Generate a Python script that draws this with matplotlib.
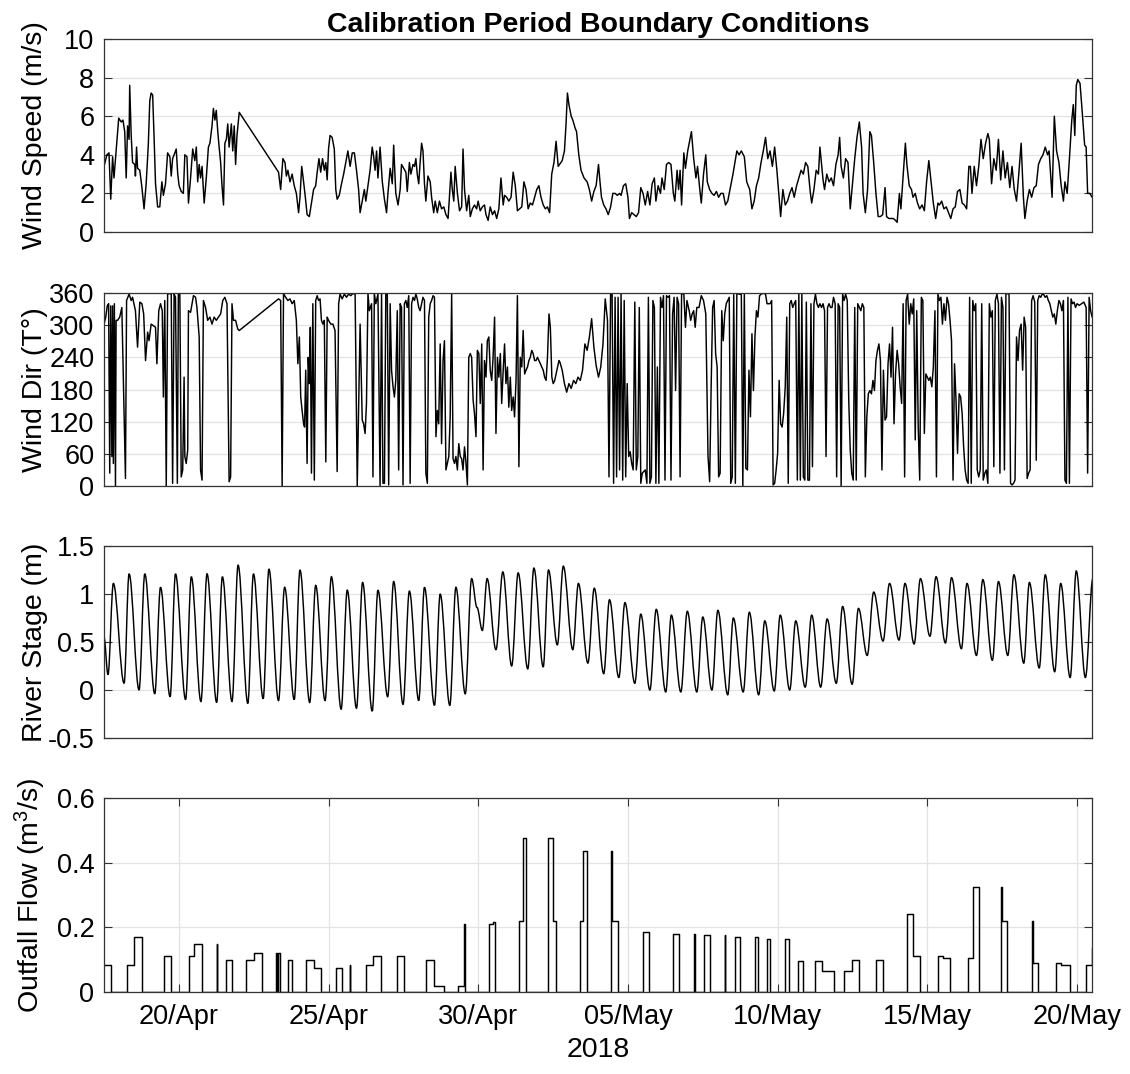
import numpy as np
import pandas as pd
import matplotlib
matplotlib.use("Agg")
import matplotlib.pyplot as plt
import matplotlib.dates as mdates
from matplotlib.path import Path
from matplotlib.patches import PathPatch
from matplotlib.ticker import FuncFormatter

plt.rcParams['font.family'] = ['Liberation Sans', 'DejaVu Sans']
plt.rcParams['mathtext.fontset'] = 'custom'
plt.rcParams['mathtext.rm'] = 'Liberation Sans'
plt.rcParams['mathtext.it'] = 'Liberation Sans:italic'

# time axis: hours after 17/Apr/2018 12:00
t_start = pd.Timestamp('2018-04-17 12:00')
t_end = pd.Timestamp('2018-05-20 12:00')
tick_days = ['2018-04-20', '2018-04-25', '2018-04-30', '2018-05-05',
             '2018-05-10', '2018-05-15', '2018-05-20']

# wind speed (m/s) : (hour, value)
wind_speed = [
    (0.0, 3.4), (2.3, 4.0), (4.0, 4.1), (5.4, 1.7), (6.9, 3.9), (8.0, 2.8), (9.7, 4.2), (11.8, 5.9),
    (13.8, 5.7), (15.2, 5.8), (16.6, 5.2), (17.8, 2.8), (18.9, 5.5), (20.1, 4.8), (20.6, 7.6), (21.8, 5.0),
    (22.9, 3.6), (24.7, 3.5), (25.2, 2.9), (26.1, 4.4), (26.9, 3.3), (28.7, 3.2), (30.4, 2.3), (32.1, 1.2),
    (33.8, 2.5), (35.5, 4.5), (36.7, 6.8), (37.8, 7.2), (39.0, 7.1), (40.1, 5.0), (41.3, 2.5), (43.0, 1.3),
    (44.7, 1.3), (46.4, 2.6), (47.6, 1.9), (49.3, 2.5), (51.0, 4.1), (52.8, 3.9), (53.9, 2.9), (55.0, 3.8),
    (56.8, 4.1), (57.9, 4.3), (59.1, 3.0), (60.2, 2.4), (61.9, 2.1), (63.6, 2.0), (64.8, 4.0), (66.5, 3.9),
    (67.7, 1.5), (69.4, 2.8), (71.1, 4.3), (72.8, 3.7), (74.0, 4.4), (75.1, 2.6), (76.3, 3.5), (77.4, 2.8),
    (78.6, 3.4), (80.3, 1.5), (82.0, 2.8), (83.7, 4.4), (84.9, 4.6), (86.6, 5.5), (87.7, 6.4), (88.9, 5.8),
    (90.0, 6.3), (91.2, 5.2), (92.3, 4.4), (93.5, 3.6), (94.6, 2.4), (95.8, 1.4), (96.9, 4.6), (98.1, 4.8),
    (99.2, 5.6), (100.3, 4.4), (102.1, 5.6), (103.2, 4.2), (104.4, 5.5), (105.5, 3.5), (106.6, 5.0), (108.4, 6.2),
    (139.9, 3.1), (141.6, 2.2), (143.4, 3.8), (145.1, 3.6), (146.2, 2.9), (147.4, 3.2), (149.1, 2.6), (150.8, 3.0),
    (152.5, 2.4), (154.2, 2.0), (156.0, 1.0), (157.1, 1.8), (158.5, 3.4), (160.0, 2.6), (161.4, 1.8), (162.8, 0.9),
    (164.6, 0.8), (166.3, 1.5), (168.0, 2.2), (169.7, 2.4), (170.9, 3.1), (172.3, 3.8), (173.7, 3.1), (175.2, 3.8),
    (176.6, 3.2), (177.8, 3.6), (178.9, 2.7), (180.0, 4.3), (181.2, 5.0), (182.9, 4.9), (184.6, 4.3), (185.8, 2.2),
    (186.9, 1.7), (188.6, 1.9), (190.4, 2.5), (192.1, 3.0), (193.8, 3.6), (195.5, 4.2), (197.3, 3.4), (199.0, 4.1),
    (200.7, 4.1), (202.4, 3.2), (204.1, 2.2), (205.3, 1.0), (207.0, 1.6), (208.7, 2.2), (209.9, 1.6), (211.6, 2.4),
    (213.3, 3.2), (215.0, 4.4), (216.2, 3.9), (217.3, 3.2), (218.5, 4.2), (219.6, 2.8), (221.3, 4.4), (223.1, 2.6),
    (224.8, 1.7), (226.5, 1.0), (227.6, 2.0), (229.4, 3.3), (231.1, 2.5), (232.2, 4.5), (233.9, 2.0), (235.7, 1.4),
    (237.4, 2.2), (238.5, 3.5), (240.2, 3.3), (242.0, 3.1), (243.1, 2.1), (244.8, 3.6), (246.0, 3.0), (247.7, 3.5),
    (248.9, 3.4), (250.0, 3.8), (251.1, 3.0), (252.3, 2.5), (253.4, 3.6), (254.6, 4.6), (255.7, 4.2), (256.9, 2.5),
    (258.0, 1.6), (259.7, 2.9), (261.5, 2.6), (262.6, 1.8), (264.3, 1.0), (265.5, 1.6), (267.2, 1.0), (268.9, 1.6),
    (270.6, 1.2), (272.4, 1.3), (274.1, 0.9), (275.8, 0.7), (276.9, 1.8), (278.1, 3.1), (279.2, 2.2), (280.4, 1.6),
    (281.5, 3.4), (283.3, 2.0), (285.0, 1.1), (286.7, 1.3), (287.8, 4.3), (289.0, 2.2), (290.7, 1.1), (292.4, 1.9),
    (293.6, 0.8), (295.3, 1.2), (297.0, 1.4), (298.7, 1.2), (299.9, 1.6), (301.6, 1.1), (303.3, 1.3), (305.0, 1.4),
    (306.2, 0.9), (307.9, 0.6), (309.6, 1.3), (311.4, 0.9), (313.1, 1.1), (314.8, 0.7), (316.5, 1.2), (318.2, 2.8),
    (320.0, 1.4), (321.1, 1.9), (322.8, 1.8), (324.5, 1.6), (326.3, 1.8), (328.0, 3.1), (329.7, 2.4), (331.4, 1.1),
    (333.1, 1.2), (334.9, 1.3), (336.6, 2.6), (338.3, 2.2), (340.0, 1.2), (341.7, 1.5), (343.5, 1.4), (345.2, 1.8),
    (346.9, 2.2), (348.6, 2.4), (350.3, 1.8), (352.1, 1.4), (353.8, 1.2), (355.5, 1.3), (357.2, 1.0), (358.9, 3.0),
    (360.7, 3.6), (362.4, 4.7), (364.1, 3.4), (367.3, 3.7), (369.1, 4.2), (370.3, 5.5), (371.5, 7.2), (372.7, 6.6),
    (374.5, 6.0), (375.8, 5.8), (377.6, 5.4), (378.8, 5.2), (380.6, 4.0), (382.4, 3.2), (384.8, 2.8), (387.3, 2.6),
    (389.1, 2.2), (390.9, 1.6), (392.7, 2.1), (394.5, 2.4), (396.4, 3.5), (397.6, 2.6), (398.8, 1.8), (400.6, 1.4),
    (402.4, 1.2), (404.2, 0.9), (406.1, 1.3), (407.9, 2.0), (409.7, 2.0), (411.5, 1.9), (413.3, 2.0), (414.5, 1.9),
    (416.4, 2.4), (418.2, 2.5), (420.0, 1.8), (421.2, 0.7), (423.0, 1.0), (424.8, 0.9), (426.7, 0.8), (428.5, 1.0),
    (430.3, 2.3), (432.1, 2.0), (433.9, 1.4), (435.8, 2.1), (437.6, 1.4), (439.4, 2.5), (441.2, 2.8), (442.4, 1.6),
    (444.2, 2.4), (446.1, 2.0), (447.3, 2.8), (449.1, 2.2), (450.9, 3.5), (452.7, 3.6), (454.5, 3.5), (456.4, 2.0),
    (457.6, 1.6), (459.4, 3.2), (460.6, 2.2), (461.8, 3.2), (463.0, 1.4), (464.8, 4.1), (466.1, 3.3), (467.9, 4.2),
    (469.1, 4.6), (470.9, 5.2), (472.7, 3.8), (474.5, 2.8), (475.8, 3.4), (477.6, 2.2), (478.8, 1.5), (480.6, 3.0),
    (482.4, 4.0), (483.6, 2.6), (485.5, 2.2), (487.3, 2.0), (489.1, 1.9), (490.9, 2.1), (492.7, 1.8), (494.5, 2.0),
    (496.4, 2.0), (498.2, 1.4), (500.0, 1.6), (502.4, 2.4), (504.2, 3.0), (505.5, 3.5), (507.3, 4.2), (509.1, 4.0),
    (510.9, 4.2), (513.3, 3.9), (515.2, 2.6), (517.6, 2.2), (519.4, 1.2), (521.2, 1.6), (523.0, 2.4), (524.8, 2.8),
    (526.7, 3.6), (528.5, 4.2), (530.3, 4.9), (532.1, 3.8), (533.9, 4.2), (535.8, 3.4), (537.6, 4.4), (539.4, 3.2),
    (541.2, 1.8), (542.4, 0.8), (544.2, 2.2), (546.1, 1.4), (547.9, 1.6), (549.7, 2.0), (551.5, 2.3), (553.3, 1.8),
    (555.2, 2.4), (557.0, 2.8), (558.8, 3.2), (560.6, 3.0), (562.4, 3.6), (564.2, 3.4), (566.1, 2.1), (567.3, 1.5),
    (569.1, 2.2), (570.9, 3.2), (572.7, 3.0), (573.9, 4.4), (575.2, 3.5), (576.4, 2.7), (577.6, 2.2), (579.4, 3.0),
    (581.2, 2.6), (583.0, 2.8), (584.8, 2.4), (586.7, 3.5), (588.5, 4.0), (589.7, 4.9), (590.9, 3.4), (592.7, 2.8),
    (594.5, 3.8), (596.4, 3.6), (598.2, 1.2), (600.0, 2.5), (601.8, 3.8), (603.6, 4.9), (605.5, 5.7), (607.3, 4.4),
    (608.5, 2.0), (610.3, 1.0), (612.1, 2.2), (613.9, 5.2), (615.2, 5.0), (617.0, 3.6), (618.8, 2.0), (620.6, 0.8),
    (622.4, 0.8), (624.2, 0.9), (626.1, 2.3), (627.3, 0.8), (629.1, 0.7), (630.9, 0.7), (632.7, 0.7), (634.5, 0.6),
    (635.8, 0.5), (637.6, 2.0), (638.8, 1.2), (640.6, 2.9), (642.4, 4.6), (643.6, 3.5), (645.5, 2.4), (647.3, 2.2),
    (648.5, 1.8), (650.3, 2.0), (652.1, 1.5), (653.9, 1.2), (655.8, 1.4), (657.6, 1.1), (659.4, 2.6), (661.2, 3.7),
    (663.0, 2.6), (664.8, 1.5), (666.7, 0.7), (668.5, 1.5), (669.7, 1.4), (671.5, 1.6), (673.3, 1.2), (675.2, 1.3),
    (677.0, 1.0), (678.8, 0.7), (680.6, 1.2), (682.4, 1.3), (684.2, 2.1), (686.1, 2.2), (687.9, 1.5), (689.7, 1.4),
    (691.5, 1.2), (693.3, 3.4), (694.5, 3.4), (695.8, 2.0), (697.6, 3.4), (699.4, 2.4), (701.2, 3.4), (703.0, 4.8),
    (704.8, 3.8), (706.7, 4.6), (708.5, 5.1), (709.7, 4.8), (711.5, 2.5), (713.3, 3.8), (715.2, 3.2), (717.0, 4.8),
    (718.8, 2.7), (720.6, 4.2), (722.4, 2.8), (724.2, 3.6), (726.1, 2.3), (727.9, 3.4), (729.7, 2.2), (731.5, 1.6),
    (733.3, 3.0), (735.2, 4.6), (737.0, 1.8), (738.2, 0.7), (740.0, 1.6), (741.8, 2.2), (743.6, 1.8), (745.5, 2.3),
    (747.3, 2.4), (749.1, 3.5), (750.9, 3.8), (752.7, 4.0), (754.5, 4.4), (756.4, 4.0), (757.6, 4.2), (758.8, 3.0),
    (760.0, 1.8), (761.8, 6.0), (763.6, 4.2), (765.5, 3.6), (767.3, 2.4), (769.1, 1.6), (770.3, 2.6), (772.1, 2.0),
    (773.9, 3.8), (775.8, 5.8), (777.0, 6.6), (778.2, 5.0), (779.4, 7.6), (780.6, 7.9), (782.4, 7.7), (784.2, 6.2),
    (786.1, 4.5), (787.3, 4.4), (788.5, 2.0), (790.3, 2.0), (792.1, 1.8), (793.3, 2.0),
]

# wind direction (deg true) : (hour, value)
wind_dir = [
    (0.0, 302), (1.4, 315), (2.6, 336), (3.7, 340), (4.6, 24), (5.4, 336), (6.3, 55), (6.9, 336),
    (7.5, 42), (8.3, 340), (9.2, 0), (9.7, 309), (10.9, 309), (12.6, 315), (14.3, 333), (17.2, 14),
    (18.1, 346), (20.1, 358), (21.8, 346), (22.9, 352), (25.2, 327), (26.9, 259), (28.7, 343), (30.4, 340),
    (31.8, 321), (33.3, 234), (35.0, 287), (36.1, 271), (37.8, 302), (39.6, 299), (41.3, 296), (42.4, 228),
    (43.9, 327), (45.3, 340), (46.7, 327), (47.6, 166), (48.7, 346), (49.9, 0), (51.0, 358), (52.5, 359),
    (53.9, 358), (55.0, 5), (56.2, 358), (57.3, 352), (58.8, 5), (59.6, 358), (60.8, 359), (61.9, 17),
    (63.1, 30), (64.2, 203), (64.8, 55), (65.9, 42), (67.1, 67), (67.7, 327), (69.4, 324), (71.7, 355),
    (73.4, 352), (74.5, 333), (76.3, 278), (77.4, 30), (78.6, 11), (79.7, 346), (81.4, 333), (83.1, 309),
    (84.9, 315), (86.6, 302), (88.3, 315), (90.0, 309), (91.7, 315), (93.5, 321), (95.2, 346), (96.9, 352),
    (98.6, 340), (100.3, 8), (101.5, 17), (102.6, 340), (103.8, 309), (105.5, 309), (107.2, 293), (108.4, 290),
    (139.9, 349), (141.6, 346), (142.8, 0), (143.9, 359), (145.6, 352), (147.4, 346), (149.1, 349), (150.8, 340),
    (152.5, 346), (154.2, 309), (155.4, 228), (156.6, 278), (157.7, 166), (158.8, 141), (160.0, 116), (160.8, 110),
    (161.7, 216), (162.8, 42), (163.7, 240), (164.6, 191), (165.4, 296), (166.3, 24), (167.4, 340), (168.6, 11),
    (169.7, 346), (170.9, 355), (172.0, 346), (173.2, 349), (174.3, 309), (175.5, 302), (176.6, 309), (177.8, 45),
    (178.9, 315), (180.0, 309), (181.8, 302), (183.5, 302), (185.2, 290), (186.9, 27), (188.1, 340), (189.2, 358),
    (190.9, 349), (192.7, 358), (194.4, 352), (196.1, 358), (197.8, 355), (199.5, 359), (201.3, 358), (203.0, 0),
    (205.3, 302), (207.0, 123), (208.1, 116), (209.3, 98), (210.4, 154), (211.6, 359), (212.7, 327), (214.5, 340),
    (215.6, 17), (216.7, 359), (217.9, 340), (219.6, 358), (221.3, 0), (222.5, 359), (223.6, 5), (224.8, 5),
    (225.9, 359), (227.1, 358), (228.2, 2), (229.4, 340), (230.5, 216), (231.7, 185), (232.8, 166), (233.9, 197),
    (235.1, 327), (236.2, 30), (237.4, 340), (238.5, 333), (239.7, 2), (240.8, 340), (242.0, 346), (243.1, 333),
    (244.3, 355), (245.4, 5), (246.6, 340), (247.7, 352), (248.9, 346), (250.0, 358), (251.1, 349), (252.3, 333),
    (253.4, 327), (254.6, 340), (255.7, 352), (256.9, 346), (258.0, 24), (259.2, 5), (260.3, 315), (261.5, 340),
    (262.6, 346), (263.8, 355), (264.9, 352), (266.1, 92), (267.2, 141), (268.3, 116), (269.5, 265), (270.6, 79),
    (271.8, 234), (272.9, 271), (274.1, 30), (275.2, 42), (276.4, 55), (277.5, 129), (278.7, 358), (279.8, 51),
    (281.0, 42), (282.1, 55), (283.3, 30), (284.4, 79), (285.6, 55), (286.7, 51), (287.8, 30), (289.0, 73),
    (290.1, 45), (291.3, 2), (292.4, 240), (293.6, 247), (294.7, 240), (295.9, 160), (297.0, 135), (298.2, 92),
    (299.3, 253), (300.5, 247), (301.6, 154), (302.8, 265), (303.9, 30), (305.0, 234), (306.2, 203), (307.3, 271),
    (308.5, 278), (309.6, 216), (310.8, 197), (311.9, 240), (313.1, 315), (314.2, 98), (315.4, 240), (316.5, 203),
    (317.7, 247), (318.8, 154), (320.0, 216), (321.1, 265), (322.2, 191), (323.4, 222), (324.5, 147), (325.7, 203),
    (326.8, 141), (328.0, 166), (329.1, 129), (330.3, 197), (331.4, 355), (332.6, 36), (333.7, 240), (334.9, 222),
    (336.0, 290), (337.2, 209), (338.3, 216), (339.5, 222), (340.6, 234), (341.7, 240), (342.9, 253), (344.0, 247),
    (345.2, 234), (346.3, 234), (347.5, 240), (348.6, 234), (349.8, 228), (350.9, 222), (352.1, 216), (353.2, 203),
    (354.4, 197), (355.5, 240), (356.7, 321), (357.8, 296), (359.0, 203), (360.1, 191), (361.3, 197), (363.0, 216),
    (364.7, 234), (365.5, 231), (367.3, 216), (369.1, 191), (370.9, 175), (372.7, 191), (374.5, 182), (376.4, 197),
    (378.2, 191), (380.0, 203), (381.8, 197), (383.6, 216), (385.5, 265), (387.3, 253), (389.1, 278), (390.9, 312),
    (392.7, 259), (394.5, 225), (396.4, 203), (398.2, 222), (400.0, 265), (401.8, 349), (403.6, 309), (404.8, 17),
    (406.1, 359), (407.3, 358), (408.5, 5), (409.7, 352), (410.9, 17), (412.1, 352), (413.3, 30), (414.5, 358),
    (415.8, 11), (417.0, 346), (418.2, 17), (419.4, 191), (420.6, 55), (421.8, 64), (423.0, 42), (424.2, 30),
    (425.5, 343), (426.7, 30), (427.9, 55), (429.1, 333), (430.3, 5), (431.5, 24), (432.7, 27), (433.9, 30),
    (435.2, 5), (436.4, 352), (437.6, 5), (438.8, 17), (440.0, 346), (441.2, 333), (442.4, 5), (443.6, 222),
    (444.8, 5), (446.1, 352), (447.3, 333), (448.5, 355), (449.7, 11), (450.9, 355), (452.1, 352), (453.3, 355),
    (454.5, 11), (455.8, 321), (457.0, 352), (458.2, 178), (459.4, 352), (460.6, 340), (461.8, 17), (463.0, 358),
    (464.8, 359), (466.1, 296), (467.3, 346), (469.1, 327), (470.3, 309), (471.5, 321), (472.7, 327), (473.9, 296),
    (475.2, 333), (477.0, 333), (478.8, 355), (480.6, 346), (482.4, 321), (484.2, 55), (485.5, 8), (486.7, 185),
    (487.9, 333), (489.1, 346), (490.3, 247), (491.5, 222), (492.7, 17), (493.9, 24), (495.2, 327), (496.4, 271),
    (497.6, 321), (498.8, 340), (500.0, 346), (501.2, 352), (502.4, 5), (503.6, 17), (504.8, 357), (506.1, 5),
    (507.3, 359), (509.1, 358), (510.9, 357), (512.1, 0), (513.3, 358), (514.5, 33), (515.8, 30), (517.0, 216),
    (518.2, 129), (519.4, 284), (520.6, 178), (521.8, 278), (523.0, 327), (524.2, 315), (525.5, 355), (527.3, 359),
    (529.1, 359), (530.3, 358), (531.5, 340), (532.7, 340), (533.9, 340), (535.2, 346), (536.4, 2), (537.6, 5),
    (538.8, 30), (540.0, 61), (541.2, 197), (542.4, 116), (543.6, 110), (544.8, 135), (546.1, 185), (547.3, 315),
    (548.5, 5), (549.7, 340), (550.9, 346), (552.1, 333), (553.3, 340), (554.5, 346), (555.8, 11), (557.0, 358),
    (558.2, 11), (559.4, 358), (560.6, 17), (561.8, 11), (563.0, 343), (564.2, 11), (565.5, 11), (566.7, 340),
    (567.9, 36), (569.1, 340), (570.3, 358), (571.5, 340), (572.7, 333), (573.9, 340), (575.2, 333), (576.4, 340),
    (577.6, 327), (578.8, 55), (580.0, 333), (581.2, 340), (582.4, 333), (583.6, 333), (584.8, 352), (586.1, 340),
    (587.3, 17), (588.5, 340), (589.7, 333), (590.9, 0), (592.1, 358), (593.3, 346), (594.5, 358), (595.8, 346),
    (597.0, 160), (598.2, 67), (599.4, 24), (600.6, 11), (601.8, 333), (603.0, 11), (604.2, 340), (605.5, 333),
    (606.7, 327), (607.9, 340), (609.1, 333), (610.3, 17), (611.5, 129), (612.7, 172), (613.9, 178), (615.2, 172),
    (616.4, 197), (617.6, 178), (618.8, 234), (620.0, 253), (621.2, 265), (622.4, 234), (623.6, 30), (624.8, 216),
    (626.1, 123), (627.3, 129), (628.5, 228), (629.7, 265), (630.9, 203), (632.1, 296), (633.3, 116), (634.5, 209),
    (635.8, 253), (637.0, 228), (638.2, 185), (639.4, 154), (640.6, 340), (641.8, 17), (643.0, 346), (644.2, 358),
    (645.5, 302), (646.7, 340), (647.9, 321), (649.1, 349), (650.3, 86), (651.5, 327), (652.7, 110), (653.9, 11),
    (655.2, 352), (656.4, 346), (657.6, 98), (658.8, 209), (660.0, 203), (661.2, 197), (662.4, 203), (663.6, 185),
    (664.8, 222), (666.1, 327), (667.3, 17), (668.5, 358), (669.7, 346), (670.9, 352), (672.1, 302), (673.3, 340),
    (674.5, 309), (675.8, 352), (677.0, 340), (678.2, 309), (679.4, 271), (680.6, 11), (681.8, 228), (683.0, 160),
    (684.2, 61), (685.5, 172), (686.7, 166), (687.9, 135), (689.1, 73), (690.3, 30), (691.5, 11), (692.7, 5),
    (693.9, 352), (695.2, 5), (696.4, 346), (697.6, 327), (698.8, 340), (700.0, 30), (701.2, 17), (702.4, 30),
    (703.6, 340), (704.8, 11), (706.1, 24), (707.3, 30), (708.5, 5), (709.7, 340), (710.9, 315), (712.1, 327),
    (713.3, 36), (714.5, 346), (715.8, 358), (717.0, 340), (718.2, 24), (719.4, 352), (720.6, 333), (721.8, 30),
    (723.0, 358), (724.2, 359), (725.5, 358), (726.7, 5), (727.9, 2), (729.1, 5), (730.3, 11), (731.5, 278),
    (732.7, 234), (733.9, 290), (735.2, 302), (736.4, 216), (737.6, 315), (738.8, 296), (740.0, 14), (741.2, 24),
    (742.4, 30), (743.6, 346), (744.8, 355), (746.1, 343), (747.3, 48), (748.5, 346), (749.7, 355), (750.9, 352),
    (752.1, 358), (753.3, 357), (754.5, 352), (755.8, 355), (757.0, 346), (758.2, 340), (759.4, 327), (760.6, 315),
    (761.8, 321), (763.0, 302), (764.2, 327), (765.5, 346), (766.7, 340), (767.9, 327), (769.1, 346), (770.3, 11),
    (771.5, 5), (772.7, 352), (773.9, 5), (775.2, 349), (776.4, 340), (777.6, 343), (778.8, 333), (780.0, 340),
    (781.8, 337), (783.6, 340), (785.5, 343), (787.3, 333), (788.5, 24), (789.7, 352), (790.9, 327), (792.1, 315),
    (793.3, 333),
]

# river stage (m): successive high / low waters : (hour, value)
river_stage = [
    (0.0, 0.55), (3.2, 0.16), (7.5, 1.11), (16.1, 0.07), (20.1, 1.21), (28.1, 0.00), (32.7, 1.21), (40.7, -0.04),
    (45.3, 1.07), (53.0, -0.07), (57.3, 1.21), (65.4, -0.10), (70.0, 1.18), (77.7, -0.12), (82.6, 1.21), (90.3, -0.13),
    (94.9, 1.18), (102.6, -0.12), (107.5, 1.30), (115.3, -0.14), (119.8, 1.21), (127.6, -0.09), (132.2, 1.26),
    (139.9, -0.11), (144.8, 1.07), (152.5, -0.10), (157.1, 1.25), (164.9, -0.13), (169.7, 1.09), (177.2, -0.11),
    (182.3, 1.18), (190.1, -0.20), (195.0, 1.04), (202.4, -0.19), (207.3, 1.12), (215.0, -0.22), (219.6, 1.04),
    (227.4, -0.07), (232.2, 1.13), (239.7, -0.15), (244.8, 1.03), (252.3, -0.11), (256.9, 1.07), (264.9, -0.16),
    (269.5, 1.00), (277.2, -0.16), (282.1, 1.07), (289.6, -0.04), (294.7, 1.16), (299.0, 0.86), (303.3, 0.62),
    (307.1, 1.16), (314.2, 0.42), (319.7, 1.23), (326.8, 0.25), (332.0, 1.22), (339.7, 0.22), (344.6, 1.27),
    (352.1, 0.24), (356.3, 1.25), (363.4, 0.47), (368.2, 1.29), (375.8, 0.42), (380.3, 1.11), (387.9, 0.28),
    (393.0, 1.06), (400.6, 0.17), (405.2, 0.94), (412.7, 0.13), (417.6, 0.91), (425.5, 0.07), (430.3, 0.79),
    (437.6, 0.00), (442.7, 0.84), (450.3, -0.02), (454.8, 0.78), (462.4, -0.02), (467.6, 0.82), (475.2, -0.02),
    (480.0, 0.76), (487.3, 0.00), (492.1, 0.83), (500.0, -0.05), (504.5, 0.75), (512.4, -0.02), (517.3, 0.81),
    (524.8, -0.05), (529.7, 0.72), (537.3, -0.01), (542.1, 0.78), (549.7, 0.00), (554.5, 0.72), (562.1, 0.03),
    (567.3, 0.78), (574.5, 0.03), (579.7, 0.74), (587.0, 0.07), (592.1, 0.87), (599.7, 0.06), (604.8, 0.85),
    (611.8, 0.36), (617.0, 1.02), (624.5, 0.51), (629.7, 1.11), (637.3, 0.52), (642.1, 1.11), (649.4, 0.48),
    (654.5, 1.16), (662.1, 0.56), (667.0, 1.18), (674.5, 0.49), (679.4, 1.17), (687.3, 0.43), (691.8, 1.11),
    (699.4, 0.36), (704.5, 1.15), (712.1, 0.31), (717.0, 1.13), (724.5, 0.36), (729.4, 1.20), (737.3, 0.28),
    (741.8, 1.12), (749.7, 0.23), (754.5, 1.20), (762.1, 0.19), (766.9, 1.11), (774.5, 0.13), (779.4, 1.24),
    (786.7, 0.13), (792.7, 1.16),
]

# outfall flow (m3/s): value holds from each hour until the next one
outfall_flow = [
    (0.0, 0.085), (5.7, 0), (18.1, 0.085), (24.4, 0.17), (30.1, 0), (48.2, 0.11), (53.9, 0), (68.2, 0.11),
    (72.0, 0.15), (78.3, 0), (90.3, 0.15), (90.6, 0), (97.8, 0.10), (102.6, 0), (114.1, 0.10), (120.4, 0.12),
    (126.4, 0), (137.9, 0.12), (138.8, 0), (139.1, 0.12), (140.8, 0), (147.4, 0.10), (150.5, 0), (162.3, 0.10),
    (168.0, 0.075), (174.3, 0), (186.1, 0.075), (190.4, 0), (197.3, 0.085), (197.5, 0), (210.2, 0.085),
    (215.9, 0.11), (222.2, 0), (234.5, 0.11), (240.2, 0), (258.3, 0.10), (264.6, 0.02), (272.4, 0),
    (284.1, 0.02), (288.4, 0.21), (289.0, 0), (308.5, 0.21), (311.9, 0.215), (313.6, 0), (332.9, 0.22),
    (335.7, 0.475), (338.3, 0), (356.1, 0.475), (359.7, 0.22), (362.4, 0), (381.8, 0.22), (384.2, 0.435),
    (387.3, 0), (406.7, 0.435), (407.3, 0.22), (412.1, 0), (431.8, 0.185), (437.0, 0), (456.4, 0.18),
    (461.2, 0), (473.3, 0.18), (473.6, 0), (480.9, 0.175), (485.5, 0), (497.6, 0.175), (497.9, 0),
    (505.8, 0.17), (509.7, 0), (521.5, 0.17), (524.2, 0), (531.2, 0.165), (533.9, 0), (545.8, 0.165),
    (549.1, 0), (556.4, 0.095), (560.6, 0), (569.7, 0.095), (575.8, 0.065), (584.8, 0), (593.3, 0.065),
    (600.0, 0.10), (605.5, 0), (618.8, 0.10), (624.2, 0), (643.9, 0.24), (648.5, 0.11), (653.9, 0),
    (668.5, 0.11), (672.7, 0.105), (678.2, 0), (692.7, 0.105), (696.4, 0.325), (701.8, 0), (719.4, 0.325),
    (720.0, 0.22), (724.2, 0), (744.2, 0.22), (744.8, 0.09), (749.1, 0), (763.0, 0.09), (767.3, 0.085),
    (774.2, 0), (786.9, 0.085), (792.4, 0.135), (793.3, 0.135),
]


def to_times(pairs):
    h = np.array([p[0] for p in pairs], dtype=float)
    v = np.array([p[1] for p in pairs], dtype=float)
    t = t_start + pd.to_timedelta(h, unit='h')
    return t.to_numpy(), v


fig = plt.figure(figsize=(11.3, 10.74), dpi=100)
W, H = 1130.0, 1074.0
left, right = 104, 1092
boxes = [(39, 232), (293, 486), (546, 738), (798, 992)]
axes = [fig.add_axes([left / W, 1 - b / H, (right - left) / W, (b - t) / H]) for t, b in boxes]
ax1, ax2, ax3, ax4 = axes

line_kw = dict(color='black', lw=1.05)

t, v = to_times(wind_speed)
ax1.plot(t, v, **line_kw)

t, v = to_times(wind_dir)
ax2.plot(t, v, **line_kw)

# river stage drawn as smooth curves between successive high and low waters
t, v = to_times(river_stage)
ax3.set_xlim(t_start, t_end)
xn = mdates.date2num(t)
verts = [(xn[0], v[0])]
codes = [Path.MOVETO]
for i in range(1, len(xn)):
    dx = xn[i] - xn[i - 1]
    verts += [(xn[i - 1] + 0.36 * dx, v[i - 1]), (xn[i] - 0.36 * dx, v[i]), (xn[i], v[i])]
    codes += [Path.CURVE4] * 3
ax3.add_patch(PathPatch(Path(verts, codes), facecolor='none', edgecolor='black', lw=1.05))

t, v = to_times(outfall_flow)
ax4.step(t, v, where='post', **line_kw)

ylims = [(0, 10), (0, 360), (-0.5, 1.5), (0, 0.6)]
yticks = [np.arange(0, 11, 2), np.arange(0, 361, 60), [-0.5, 0, 0.5, 1, 1.5], [0, 0.2, 0.4, 0.6]]
ylabels = ['Wind Speed (m/s)', 'Wind Dir (T\u00b0)', 'River Stage (m)', 'Outfall Flow (m$^{3}$/s)']

for ax, yl, yt, lab in zip(axes, ylims, yticks, ylabels):
    ax.set_xlim(t_start, t_end)
    ax.set_ylim(*yl)
    ax.set_yticks(yt)
    ax.yaxis.set_major_formatter(FuncFormatter(lambda val, pos: f'{val:g}'))
    ax.set_ylabel(lab, fontsize=20.5)
    ax.yaxis.set_label_coords(-0.057, 0.5)
    ax.tick_params(axis='y', direction='in', left=True, right=True, length=6,
                   width=0.8, labelsize=19.5, pad=7, color='#333333')
    ax.grid(axis='y', color='#e3e3e3', lw=0.9)
    ax.set_axisbelow(True)
    for s in ax.spines.values():
        s.set_color('#333333')
        s.set_linewidth(0.9)

for ax in axes[:3]:
    ax.set_xticks([])

ax4.set_xticks([pd.Timestamp(d) for d in tick_days])
ax4.xaxis.set_major_formatter(mdates.DateFormatter('%d/%b'))
ax4.tick_params(axis='x', direction='in', top=True, bottom=True, length=6,
                width=0.8, labelsize=19.5, pad=9, color='#333333')
ax4.grid(axis='x', color='#e3e3e3', lw=0.9)
ax4.set_xlabel('2018', fontsize=20.5, labelpad=5)

ax1.set_title('Calibration Period Boundary Conditions', fontsize=20.5, fontweight='bold', pad=5)

fig.savefig('out.png', dpi=100)
